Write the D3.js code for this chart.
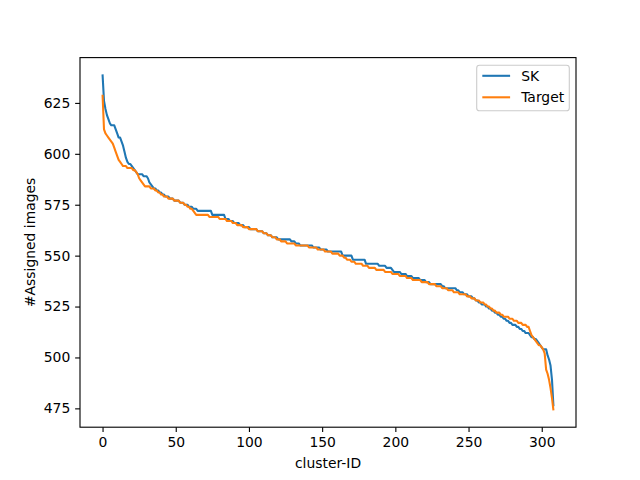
<!DOCTYPE html>
<html>
<head>
<meta charset="utf-8">
<script src="https://cdn.jsdelivr.net/npm/d3@7"></script>
<style>
  html, body { margin: 0; padding: 0; background: #fff; }
  svg { display: block; }
  text { font-family: "DejaVu Sans", sans-serif; }
</style>
</head>
<body>
<svg id="chart" width="640" height="480"></svg>
<script>
const seriesNames = ["SK", "Target"];
const seriesColors = ["#1f77b4", "#ff7f0e"];
const xTicks = [0, 50, 100, 150, 200, 250, 300];
const yTicks = [475, 500, 525, 550, 575, 600, 625];
const xLabel = "cluster-ID";
const yLabel = "#Assigned images";

const skValues = [
  639,626,622,619,617,615,614,614,614,612,
  610,608,608,606,604,601,598,596,595,595,
  594,593,592,591,590,590,590,590,589,589,
  589,588,586,585,584,583,583,582,582,581,
  581,580,580,579,579,579,578,578,578,577,
  577,577,577,576,576,576,575,575,575,574,
  574,574,573,573,573,572,572,572,572,572,
  572,572,572,572,572,570,570,570,570,570,
  570,570,570,570,568,568,568,567,567,567,
  566,566,566,566,565,565,565,564,564,564,
  564,563,563,563,563,563,562,562,562,562,
  561,561,561,560,560,560,559,559,559,559,
  558,558,558,558,558,558,558,558,558,557,
  557,557,556,556,556,555,555,555,555,555,
  555,555,555,555,554,554,554,554,554,553,
  553,553,553,553,552,552,552,552,552,552,
  552,552,552,552,550,550,550,550,550,550,
  550,548,548,548,548,548,548,548,548,548,
  546,546,546,546,546,546,546,546,546,545,
  545,545,545,545,544,544,544,544,543,542,
  542,542,542,542,541,541,541,541,540,540,
  540,540,539,539,539,539,539,538,538,538,
  538,537,537,537,536,536,536,536,536,536,
  536,536,535,535,534,534,534,534,534,534,
  534,534,533,533,532,532,532,531,531,531,
  530,530,530,529,529,528,528,527,527,526,
  526,526,525,525,524,524,523,523,522,522,
  521,521,520,520,519,519,518,518,517,517,
  516,516,516,515,515,514,514,513,513,512,
  512,512,511,510,510,509,509,508,507,506,
  505,504,504,504,501,499,496,489,476
];

const targetValues = [
  629,612,610,609,608,607,606,605,603,601,
  599,597,596,595,594,594,594,593,593,593,
  593,592,592,591,590,588,587,586,585,584,
  584,584,584,583,583,583,582,582,581,581,
  580,580,579,579,579,578,578,578,578,577,
  577,577,577,576,576,576,575,575,574,574,
  573,573,572,571,570,570,570,570,570,570,
  570,570,570,569,569,569,569,569,569,569,
  568,568,568,568,568,567,567,567,567,566,
  566,566,565,565,565,565,564,564,564,564,
  563,563,563,563,563,563,562,562,562,562,
  561,561,561,560,560,560,559,559,559,558,
  558,558,557,557,557,557,556,556,556,556,
  556,556,555,555,555,555,555,555,555,555,
  555,554,554,554,554,554,554,553,553,553,
  553,553,552,552,552,552,552,551,551,551,
  551,551,550,550,550,549,549,548,548,548,
  547,547,547,546,546,546,546,546,545,545,
  545,545,544,544,544,544,544,543,543,543,
  543,543,543,542,542,542,542,542,541,541,
  541,541,541,540,540,540,540,540,539,539,
  539,539,538,538,538,538,538,538,537,537,
  537,537,537,536,536,536,536,536,535,535,
  535,535,534,534,534,534,533,533,533,533,
  532,532,532,532,531,531,531,531,531,530,
  530,530,529,529,529,528,528,528,527,527,
  527,526,526,525,525,524,524,523,523,522,
  522,522,521,521,520,520,520,520,519,519,
  519,518,518,518,517,517,517,516,516,516,
  515,515,513,511,510,509,508,507,506,506,
  505,504,502,494,492,489,485,480,474
];

const allSeries = [skValues, targetValues];

(function () {
const svg = d3.select("#chart");
const W = 640, H = 480;
const pL = 80, pR = 576, pT = 57.6, pB = 427.2;
const fs = "13.9px";

const n = skValues.length;
const xPad = (n - 1) * 0.05;
const allVals = skValues.concat(targetValues);
const yMin = d3.min(allVals), yMax = d3.max(allVals);
const yPad = (yMax - yMin) * 0.05;

const x = d3.scaleLinear().domain([-xPad, n - 1 + xPad]).range([pL, pR]);
const y = d3.scaleLinear().domain([yMin - yPad, yMax + yPad]).range([pB, pT]);

svg.append("rect").attr("width", W).attr("height", H).attr("fill", "#fff");

svg.append("defs").append("clipPath").attr("id", "clip")
  .append("rect").attr("x", pL).attr("y", pT).attr("width", pR - pL).attr("height", pB - pT);

const line = d3.line().x((d, i) => x(i)).y(d => y(d));
const plot = svg.append("g").attr("clip-path", "url(#clip)");
allSeries.forEach((vals, k) => {
  plot.append("path")
    .datum(vals)
    .attr("d", line)
    .attr("fill", "none")
    .attr("stroke", seriesColors[k])
    .attr("stroke-width", 2.08)
    .attr("stroke-linejoin", "round")
    .attr("stroke-linecap", "butt");
});

const xAxis = d3.axisBottom(x).tickValues(xTicks).tickSize(4.86).tickPadding(4.86).tickFormat(d3.format("d"));
const yAxis = d3.axisLeft(y).tickValues(yTicks).tickSize(4.86).tickPadding(4.86).tickFormat(d3.format("d"));

const gx = svg.append("g").attr("transform", `translate(0,${pB})`).call(xAxis);
const gy = svg.append("g").attr("transform", `translate(${pL},0)`).call(yAxis);
[gx, gy].forEach(g => {
  g.select(".domain").remove();
  g.selectAll(".tick line").attr("stroke", "#000").attr("stroke-width", 1.11);
  g.selectAll(".tick text").attr("fill", "#000").style("font-size", fs).style("font-family", "'DejaVu Sans', sans-serif");
});

svg.append("rect")
  .attr("x", pL).attr("y", pT).attr("width", pR - pL).attr("height", pB - pT)
  .attr("fill", "none").attr("stroke", "#000").attr("stroke-width", 1.11);

svg.append("text")
  .attr("x", (pL + pR) / 2).attr("y", 467.5)
  .attr("text-anchor", "middle")
  .style("font-size", fs)
  .text(xLabel);

svg.append("text")
  .attr("transform", `translate(35,${(pT + pB) / 2}) rotate(-90)`)
  .attr("text-anchor", "middle")
  .style("font-size", fs)
  .text(yLabel);

const lg = svg.append("g");
const lgX = 476.7, lgY = 65.3, lgW = 92.6, lgH = 45.4;
lg.append("rect")
  .attr("x", lgX).attr("y", lgY).attr("width", lgW).attr("height", lgH)
  .attr("rx", 2.8).attr("ry", 2.8)
  .attr("fill", "#fff").attr("fill-opacity", 0.8)
  .attr("stroke", "#cccccc").attr("stroke-width", 1.11);
const rowY = [75.8, 97.3];
seriesNames.forEach((name, k) => {
  lg.append("line")
    .attr("x1", lgX + 5.6).attr("x2", lgX + 5.6 + 27.8)
    .attr("y1", rowY[k]).attr("y2", rowY[k])
    .attr("stroke", seriesColors[k]).attr("stroke-width", 2.08);
  lg.append("text")
    .attr("x", lgX + 5.6 + 27.8 + 11.1)
    .attr("y", rowY[k])
    .attr("dy", "0.36em")
    .style("font-size", fs)
    .attr("fill", "#000")
    .text(name);
});
})();
</script>
</body>
</html>
